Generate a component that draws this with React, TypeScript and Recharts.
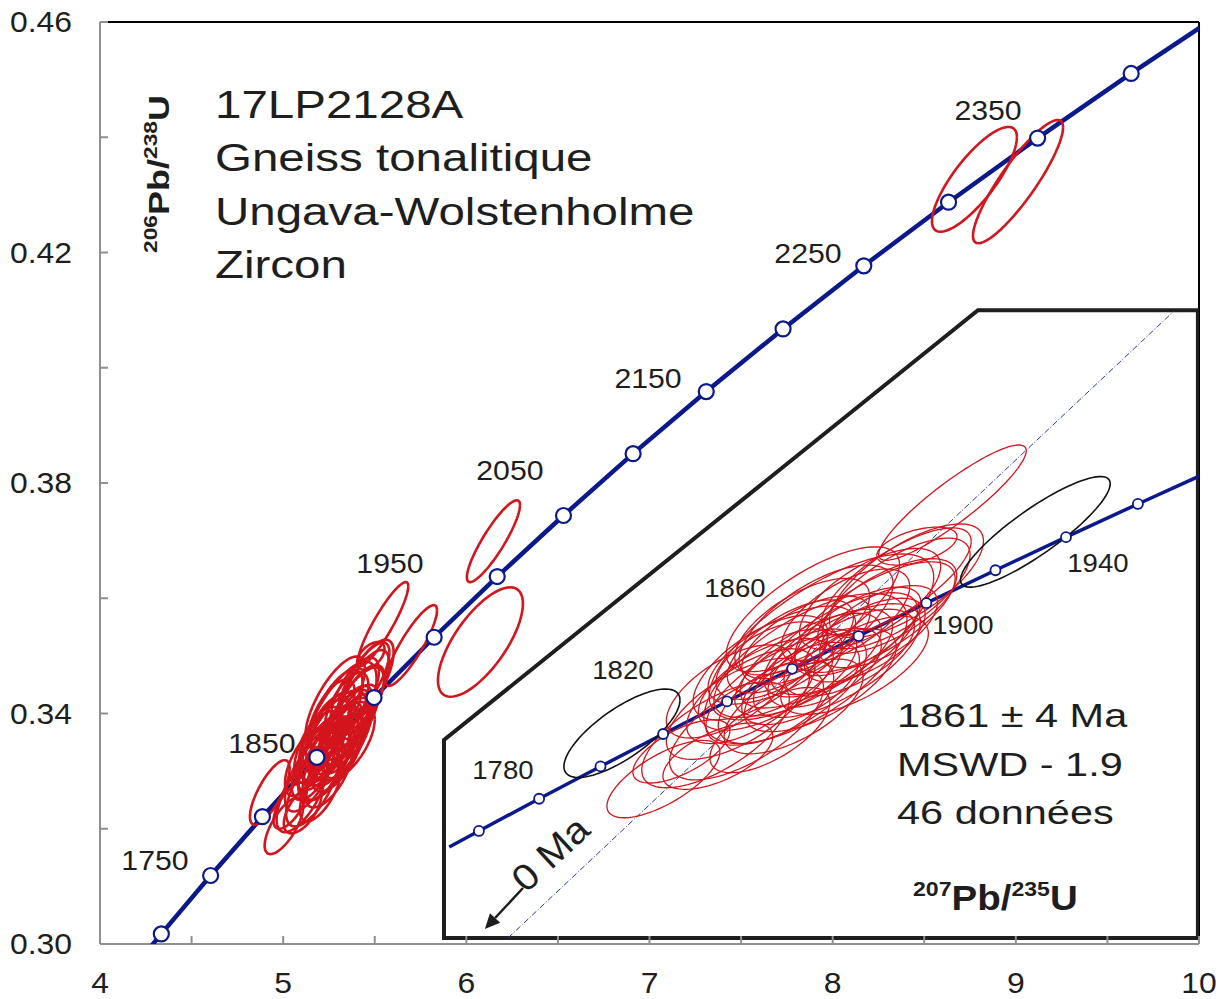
import React from "react";
import { ScatterChart, Scatter, XAxis, YAxis, ReferenceLine, Customized } from "recharts";

const NAVY = "#0a1a8c";
const RED = "#d3151d";
const INK = "#1e1e1e";
const GREY = "#8f8f8f";
const FONT = "'Liberation Sans', Arial, sans-serif";

// main concordia (207Pb/235U, 206Pb/238U), markers every 50 Ma
const concordiaAges = [1690, 1700, 1750, 1800, 1850, 1900, 1950, 2000, 2050, 2100, 2150, 2200, 2250, 2300, 2350, 2400, 2435];
const concordiaX = [4.2825, 4.3348, 4.604, 4.8869, 5.184, 5.4962, 5.8242, 6.1686, 6.5304, 6.9105, 7.3098, 7.7292, 8.1699, 8.6327, 9.1189, 9.6297, 10.0025];
const concordiaY = [0.29974, 0.30175, 0.31189, 0.3221, 0.3324, 0.34277, 0.35323, 0.36377, 0.37436, 0.38509, 0.39587, 0.40674, 0.41769, 0.42873, 0.43986, 0.45107, 0.45897];

// inset concordia, markers every 20 Ma
const insetAges = [1750, 1760, 1780, 1800, 1820, 1840, 1860, 1880, 1900, 1920, 1940, 1960, 1977];
const insetX = [4.604, 4.6595, 4.7721, 4.8869, 5.004, 5.1234, 5.2453, 5.3695, 5.4962, 5.6254, 5.7573, 5.8917, 6.0081];
const insetY = [0.31189, 0.31393, 0.31801, 0.3221, 0.32621, 0.33033, 0.33446, 0.33861, 0.34277, 0.34694, 0.35113, 0.35533, 0.35891];

// age labels
const mainLabelAges = [1750, 1850, 1950, 2050, 2150, 2250, 2350];
const mainLabelX = [4.3, 4.884, 5.583, 6.238, 6.992, 7.865, 8.848];
const mainLabelY = [0.3146, 0.3349, 0.3661, 0.3823, 0.3982, 0.4199, 0.4447];
const insetLabelAges = [1780, 1820, 1860, 1900, 1940];
const insetLabelX = [4.7044, 4.9288, 5.1382, 5.5645, 5.8169];
const insetLabelY = [0.32165, 0.33431, 0.3447, 0.34001, 0.34786];

// error ellipses: [207/235, 206/238, half-width x, half-height y, rho]
const clusterEllipses = [
  [5.0045, 0.3205, 0.1056, 0.0049, 0.7],
  [5.0381, 0.324, 0.0907, 0.004, 0.65],
  [5.1064, 0.3234, 0.1028, 0.0042, 0.6],
  [5.2036, 0.3267, 0.1122, 0.0054, 0.65],
  [5.545, 0.3555, 0.138, 0.0073, 0.9],
  [5.4785, 0.35, 0.075, 0.0024, 0.5],
  [5.28, 0.3355, 0.132, 0.006, 0.65],
  [5.252, 0.334, 0.114, 0.0055, 0.63],
  [5.336, 0.3375, 0.144, 0.0066, 0.67],
  [5.196, 0.3325, 0.126, 0.0058, 0.6],
  [5.368, 0.3392, 0.118, 0.0056, 0.65],
  [5.306, 0.3346, 0.106, 0.005, 0.57],
  [5.226, 0.3362, 0.138, 0.0062, 0.65],
  [5.4, 0.341, 0.15, 0.007, 0.7],
  [5.168, 0.331, 0.12, 0.006, 0.63],
  [5.3, 0.3385, 0.21, 0.0105, 0.72],
  [5.261, 0.3326, 0.11, 0.0052, 0.59],
  [5.352, 0.3365, 0.122, 0.0055, 0.61],
  [5.242, 0.3373, 0.118, 0.0059, 0.64],
  [5.423, 0.3424, 0.13, 0.006, 0.65],
  [5.144, 0.3294, 0.134, 0.0064, 0.65],
  [5.29, 0.3404, 0.144, 0.0072, 0.67],
  [5.215, 0.3303, 0.108, 0.0053, 0.57],
  [5.381, 0.3381, 0.113, 0.0053, 0.61],
  [5.329, 0.3355, 0.156, 0.0072, 0.68],
  [5.186, 0.3346, 0.126, 0.0066, 0.65],
  [5.271, 0.3381, 0.12, 0.0056, 0.62],
  [5.44, 0.344, 0.138, 0.007, 0.7],
  [5.234, 0.3318, 0.15, 0.007, 0.65],
  [5.345, 0.3411, 0.12, 0.006, 0.63],
  [5.298, 0.333, 0.142, 0.0065, 0.65],
  [5.128, 0.3316, 0.118, 0.0059, 0.63],
  [5.391, 0.3433, 0.132, 0.0064, 0.65],
  [5.207, 0.3355, 0.104, 0.0049, 0.55],
  [5.319, 0.3366, 0.114, 0.0054, 0.6],
  [5.284, 0.342, 0.162, 0.0079, 0.72],
  [5.248, 0.3297, 0.13, 0.006, 0.63],
  [5.362, 0.3349, 0.138, 0.0062, 0.65],
  [5.16, 0.3274, 0.144, 0.007, 0.67],
  [5.407, 0.3398, 0.11, 0.0052, 0.59],
  [5.264, 0.3398, 0.126, 0.0061, 0.64],
  [5.459, 0.3456, 0.144, 0.0072, 0.7],
  [5.27, 0.3345, 0.19, 0.0095, 0.66],
  [5.219, 0.3339, 0.12, 0.0056, 0.61],
  [5.102, 0.3261, 0.138, 0.0067, 0.67],
  [5.44, 0.3455, 0.14, 0.0068, 0.75],
];
const excludedEllipses = [
  [4.927, 0.3263, 0.1085, 0.0056, 0.75],
  [5.7, 0.3518, 0.14, 0.007, 0.87],
];
const olderEllipses = [
  [6.077, 0.3524, 0.232, 0.0095, 0.7],
  [6.148, 0.3699, 0.145, 0.0071, 0.88],
  [8.774, 0.4327, 0.232, 0.0091, 0.8],
  [9.012, 0.4323, 0.246, 0.0107, 0.88],
];

// discordia through the inset, and the inset frame (main-chart units)
const discordiaX = [4.7139, 5.9593];
const discordiaY = [0.30038, 0.37976];
const insetBoxX = [5.878, 5.878, 8.793, 9.994, 9.994, 5.878, 5.878];
const insetBoxY = [0.32, 0.3354, 0.41, 0.41, 0.30104, 0.30104, 0.32];
const arrowAt = { x: 4.742, y: 0.30671 };

const xTicks = [4, 4.5, 5, 5.5, 6, 6.5, 7, 7.5, 8, 8.5, 9, 9.5, 10];
const yTicks = [0.3, 0.32, 0.34, 0.36, 0.38, 0.4, 0.42, 0.44, 0.46];

const titleLines = ["17LP2128A", "Gneiss tonalitique", "Ungava-Wolstenholme", "Zircon"];
const resultLines = ["1861 ± 4 Ma", "MSWD - 1.9", "46 données"];

const zip = (xs: number[], ys: number[]) => xs.map((x, i) => ({ x, y: ys[i] }));

const ellipsePts = ([x, y, sx, sy, rho]: number[], n = 64) => {
  const k = Math.sqrt(1 - rho * rho);
  return Array.from({ length: n + 1 }, (_, i) => {
    const t = (2 * Math.PI * i) / n;
    return { x: x + sx * Math.cos(t), y: y + sy * (rho * Math.cos(t) + k * Math.sin(t)) };
  });
};

const mainCurve = zip(concordiaX, concordiaY);
const mainMarks = mainCurve.slice(1, -1);
const insetCurve = zip(insetX, insetY);
const insetMarks = insetCurve.slice(1, -1);
const mainLabels = mainLabelAges.map((a, i) => ({ x: mainLabelX[i], y: mainLabelY[i], label: a }));
const insetLabels = insetLabelAges.map((a, i) => ({ x: insetLabelX[i], y: insetLabelY[i], label: a }));

const noDot = () => <g />;

const label = (size: number, sx: number) => (p: any) => (
  <text
    transform={`translate(${p.cx},${p.cy}) scale(${sx},1)`}
    textAnchor="middle"
    dy="0.36em"
    fontSize={size}
    fontFamily={FONT}
    fill={INK}
  >
    {p.payload.label}
  </text>
);

const ring = (r: number, w: number) => (p: any) => (
  <circle cx={p.cx} cy={p.cy} r={r} fill="#fff" stroke={NAVY} strokeWidth={w} />
);

const ArrowShape = (p: any) => {
  const { cx, cy } = p;
  const ang = (133 * Math.PI) / 180;
  const dx = Math.cos(ang);
  const dy = Math.sin(ang);
  const len = 56;
  const tx = cx + dx * len;
  const ty = cy + dy * len;
  const bx = tx - dx * 15;
  const by = ty - dy * 15;
  return (
    <g>
      <line x1={cx} y1={cy} x2={bx} y2={by} stroke={INK} strokeWidth={2.5} />
      <polygon
        points={`${tx},${ty} ${bx - dy * 7},${by + dx * 7} ${bx + dy * 7},${by - dx * 7}`}
        fill={INK}
      />
      <text
        transform={`translate(${cx + 3},${cy + 6}) rotate(-43) scale(1.1,1)`}
        fontSize={37}
        fontFamily={FONT}
        fill={INK}
      >
        0 Ma
      </text>
    </g>
  );
};

const XTick = (p: any) => {
  const { x, y, payload } = p;
  const v = payload.value;
  return (
    <g>
      <line x1={x} x2={x} y1={y} y2={y - 8} stroke={GREY} strokeWidth={2} />
      {Number.isInteger(v) && (
        <text transform={`translate(${x},${y + 49}) scale(1.1,1)`} textAnchor="middle" fontSize={29} fontFamily={FONT} fill={INK}>
          {v}
        </text>
      )}
    </g>
  );
};

const YTick = (p: any) => {
  const { x, y, payload } = p;
  const v = payload.value;
  const major = Math.round(v * 100) % 4 === 2;
  return (
    <g>
      <line x1={x} x2={x + 8} y1={y} y2={y} stroke={GREY} strokeWidth={2} />
      {major && (
        <text transform={`translate(${x - 28},${y + 10}) scale(1.1,1)`} textAnchor="end" fontSize={29} fontFamily={FONT} fill={INK}>
          {v.toFixed(2)}
        </text>
      )}
    </g>
  );
};

const Annotations = () => (
  <g fontFamily={FONT} fill={INK}>
    {titleLines.map((t, i) => (
      <text key={t} transform={`translate(215,${118 + i * 53.3}) scale(1.25,1)`} fontSize={38}>
        {t}
      </text>
    ))}
    {resultLines.map((t, i) => (
      <text key={t} transform={`translate(897,${727 + i * 48.5}) scale(1.22,1)`} fontSize={34}>
        {t}
      </text>
    ))}
    <text transform="translate(913,910) scale(1.1,1)" fontWeight="bold" fontSize={35}>
      <tspan fontSize={21} dy={-14}>207</tspan>
      <tspan dy={14}>Pb/</tspan>
      <tspan fontSize={21} dy={-14}>235</tspan>
      <tspan dy={14}>U</tspan>
    </text>
    <text transform="translate(169,253) rotate(-90) scale(1.2,1)" fontWeight="bold" fontSize={30}>
      <tspan fontSize={19} dy={-12}>206</tspan>
      <tspan dy={12}>Pb/</tspan>
      <tspan fontSize={19} dy={-12}>238</tspan>
      <tspan dy={12}>U</tspan>
    </text>
  </g>
);

const App = () => {
  const allMain = [...clusterEllipses, ...excludedEllipses, ...olderEllipses];
  return (
    <div style={{ position: "absolute", left: 0, top: 0, width: 1223, height: 999, background: "#fff" }}>
      <ScatterChart width={1223} height={999} margin={{ top: 22, right: 24, bottom: 15, left: 10 }}>
        <XAxis
          xAxisId="main"
          type="number"
          dataKey="x"
          domain={[4, 10]}
          ticks={xTicks}
          interval={0}
          allowDataOverflow
          height={40}
          axisLine={{ stroke: GREY, strokeWidth: 2 }}
          tickLine={false}
          tickSize={0}
          tickMargin={0}
          tick={XTick}
        />
        <YAxis
          yAxisId="main"
          type="number"
          dataKey="y"
          domain={[0.3, 0.46]}
          ticks={yTicks}
          interval={0}
          allowDataOverflow
          width={90}
          axisLine={{ stroke: GREY, strokeWidth: 2 }}
          tickLine={false}
          tickSize={0}
          tickMargin={0}
          tick={YTick}
        />
        <XAxis xAxisId="inset" type="number" dataKey="x" domain={[3.951, 6.006]} allowDataOverflow hide height={0} />
        <YAxis yAxisId="inset" type="number" dataKey="y" domain={[0.29962, 0.41635]} allowDataOverflow hide width={0} />

        <ReferenceLine xAxisId="main" yAxisId="main" y={0.46} stroke="#000" strokeWidth={2} />
        <ReferenceLine xAxisId="main" yAxisId="main" x={10} stroke="#000" strokeWidth={2} />

        {/* main diagram */}
        <Scatter xAxisId="main" yAxisId="main" data={mainCurve} line={{ stroke: NAVY, strokeWidth: 4.5 }} lineType="joint" shape={noDot} isAnimationActive={false} />
        {allMain.map((e, i) => (
          <Scatter key={`m${i}`} xAxisId="main" yAxisId="main" data={ellipsePts(e)} line={{ stroke: RED, strokeWidth: 2.6 }} lineType="joint" shape={noDot} isAnimationActive={false} />
        ))}
        <Scatter xAxisId="main" yAxisId="main" data={mainMarks} shape={ring(7.5, 2.2)} isAnimationActive={false} />
        <Scatter xAxisId="main" yAxisId="main" data={mainLabels} shape={label(28, 1.08)} isAnimationActive={false} />

        {/* inset frame */}
        <Scatter
          xAxisId="main"
          yAxisId="main"
          data={zip(insetBoxX, insetBoxY)}
          line={{ stroke: INK, strokeWidth: 4, strokeLinejoin: "miter" }}
          lineType="joint"
          shape={noDot}
          isAnimationActive={false}
        />

        {/* inset */}
        <Scatter xAxisId="inset" yAxisId="inset" data={zip(discordiaX, discordiaY)} line={{ stroke: "#2b36a8", strokeWidth: 1, strokeDasharray: "6 2 1 2" }} lineType="joint" shape={noDot} isAnimationActive={false} />
        <Scatter xAxisId="inset" yAxisId="inset" data={insetCurve} line={{ stroke: NAVY, strokeWidth: 3.5 }} lineType="joint" shape={noDot} isAnimationActive={false} />
        {clusterEllipses.map((e, i) => (
          <Scatter key={`i${i}`} xAxisId="inset" yAxisId="inset" data={ellipsePts(e, 90)} line={{ stroke: RED, strokeWidth: 1.3 }} lineType="joint" shape={noDot} isAnimationActive={false} />
        ))}
        {excludedEllipses.map((e, i) => (
          <Scatter key={`k${i}`} xAxisId="inset" yAxisId="inset" data={ellipsePts(e, 90)} line={{ stroke: "#111", strokeWidth: 1.6 }} lineType="joint" shape={noDot} isAnimationActive={false} />
        ))}
        <Scatter xAxisId="inset" yAxisId="inset" data={insetMarks} shape={ring(5, 1.8)} isAnimationActive={false} />
        <Scatter xAxisId="inset" yAxisId="inset" data={insetLabels} shape={label(26, 1.06)} isAnimationActive={false} />
        <Scatter xAxisId="inset" yAxisId="inset" data={[arrowAt]} shape={ArrowShape} isAnimationActive={false} />

        <Customized component={Annotations} />
      </ScatterChart>
    </div>
  );
};

export default App;
